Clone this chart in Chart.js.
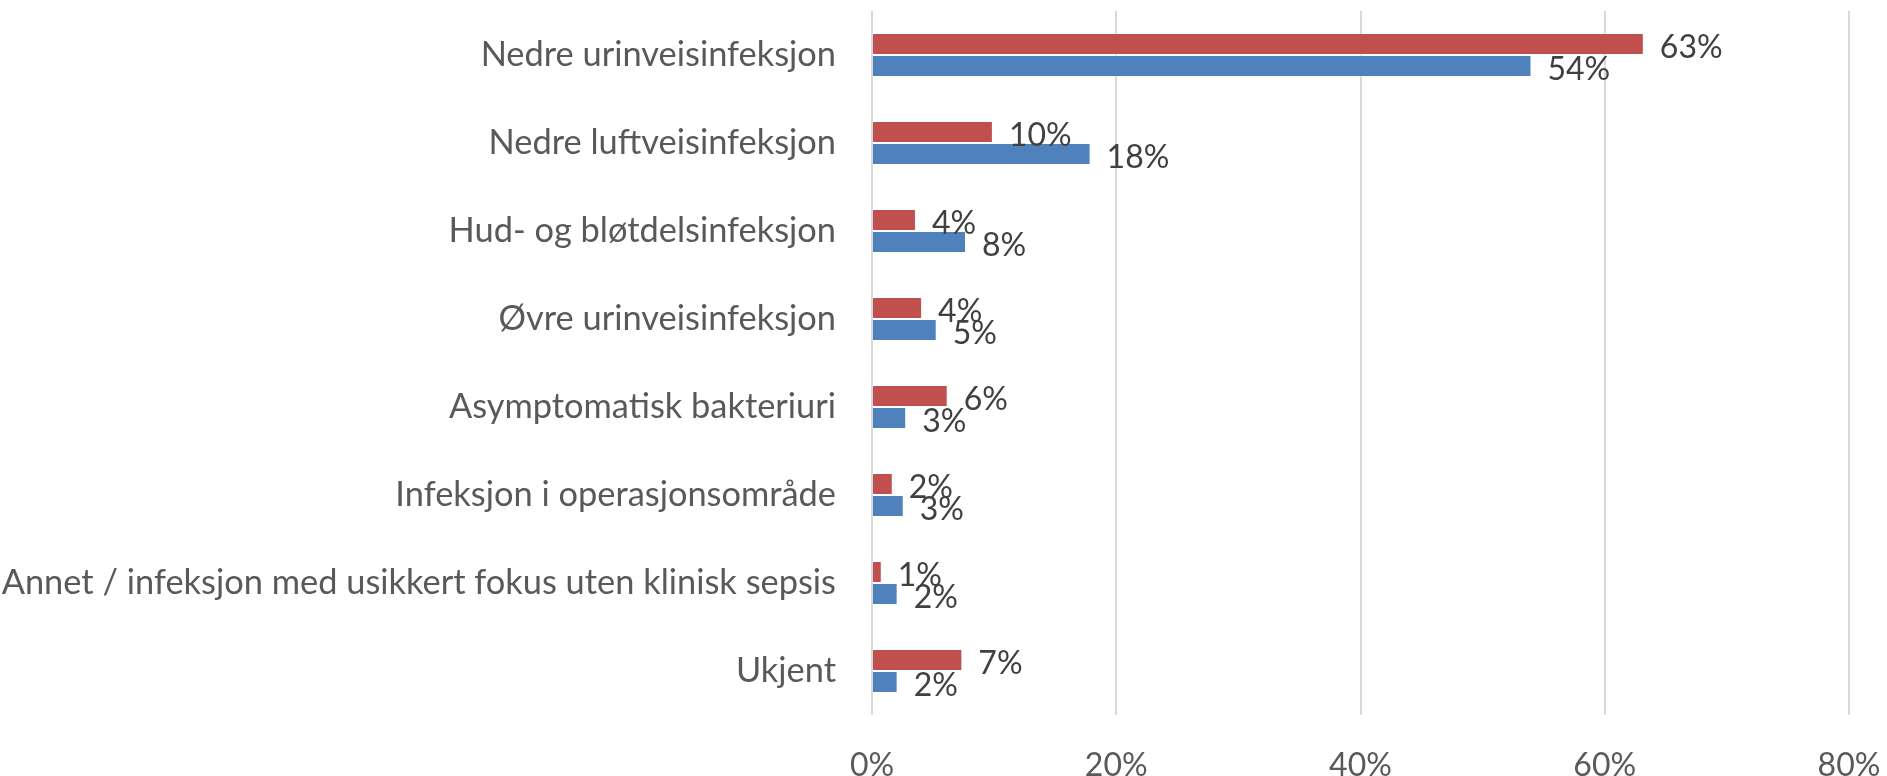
<!DOCTYPE html>
<html>
<head>
<meta charset="utf-8">
<script src="https://cdn.jsdelivr.net/npm/chart.js@4.4.1/dist/chart.umd.min.js"></script>
<style>
  html, body { margin: 0; padding: 0; background: #fff; }
  #wrap { width: 1887px; height: 776px; position: relative; }
</style>
</head>
<body>
<div id="wrap"><canvas id="myChart"></canvas></div>
<script>
const categories = ['Nedre urinveisinfeksjon', 'Nedre luftveisinfeksjon', 'Hud- og bløtdelsinfeksjon',
  'Øvre urinveisinfeksjon', 'Asymptomatisk bakteriuri', 'Infeksjon i operasjonsområde',
  'Annet / infeksjon med usikkert fokus uten klinisk sepsis', 'Ukjent'];
const redValues = [63.2, 9.9, 3.6, 4.1, 6.2, 1.7, 0.8, 7.4];
const blueValues = [54.0, 17.9, 7.7, 5.3, 2.8, 2.6, 2.1, 2.1];
const xTicks = [0, 20, 40, 60, 80];

const FONT = 'Lato';

// draws the value at the end of each bar, like Excel's "outside end"
const barLabels = {
  id: 'barLabels',
  afterDatasetsDraw(chart) {
    const c = chart.ctx;
    c.save();
    c.font = '32px ' + FONT;
    c.fillStyle = '#404040';
    c.textAlign = 'left';
    c.textBaseline = 'middle';
    chart.data.datasets.forEach((ds, i) => {
      chart.getDatasetMeta(i).data.forEach((bar, j) => {
        c.fillText(Math.round(ds.data[j]) + '%', bar.x + 16, bar.y + 4);
      });
    });
    c.restore();
  }
};

// drop the extra room chart.js reserves for tick label overflow
function noPad(scale) {
  scale.paddingTop = 0;
  scale.paddingBottom = 0;
  scale.paddingLeft = 0;
  scale.paddingRight = 0;
}

new Chart(document.getElementById('myChart'), {
  type: 'bar',
  data: {
    labels: categories,
    datasets: [{
      label: 'Serie 1',
      data: redValues,
      backgroundColor: '#C0504D',
      borderColor: 'rgba(255,255,255,0.35)',
      borderWidth: 1,
      barPercentage: 1,
      categoryPercentage: 0.5
    }, {
      label: 'Serie 2',
      data: blueValues,
      backgroundColor: '#4F81BD',
      borderColor: 'rgba(255,255,255,0.35)',
      borderWidth: 1,
      barPercentage: 1,
      categoryPercentage: 0.5
    }]
  },
  options: {
    indexAxis: 'y',
    responsive: true,
    maintainAspectRatio: false,
    animation: false,
    layout: { padding: { top: 11, right: 38, left: 0, bottom: 0 } },
    plugins: {
      legend: { display: false },
      tooltip: { enabled: false }
    },
    scales: {
      x: {
        min: 0,
        max: 80,
        afterBuildTicks(scale) {
          scale.ticks = xTicks.map(v => ({ value: v }));
        },
        afterFit(scale) { scale.height = 61; noPad(scale); },
        border: { display: false },
        grid: { color: '#D9D9D9', lineWidth: 2, drawTicks: false },
        ticks: {
          padding: 31,
          color: '#595959',
          font: { family: FONT, size: 32 },
          callback: v => v + '%'
        }
      },
      y: {
        afterFit(scale) { scale.width = 872; noPad(scale); },
        border: { display: false },
        grid: { display: false, drawTicks: false },
        ticks: {
          padding: 36,
          color: '#595959',
          font: { family: FONT, size: 34.4 }
        }
      }
    }
  },
  plugins: [barLabels]
});
</script>
</body>
</html>
